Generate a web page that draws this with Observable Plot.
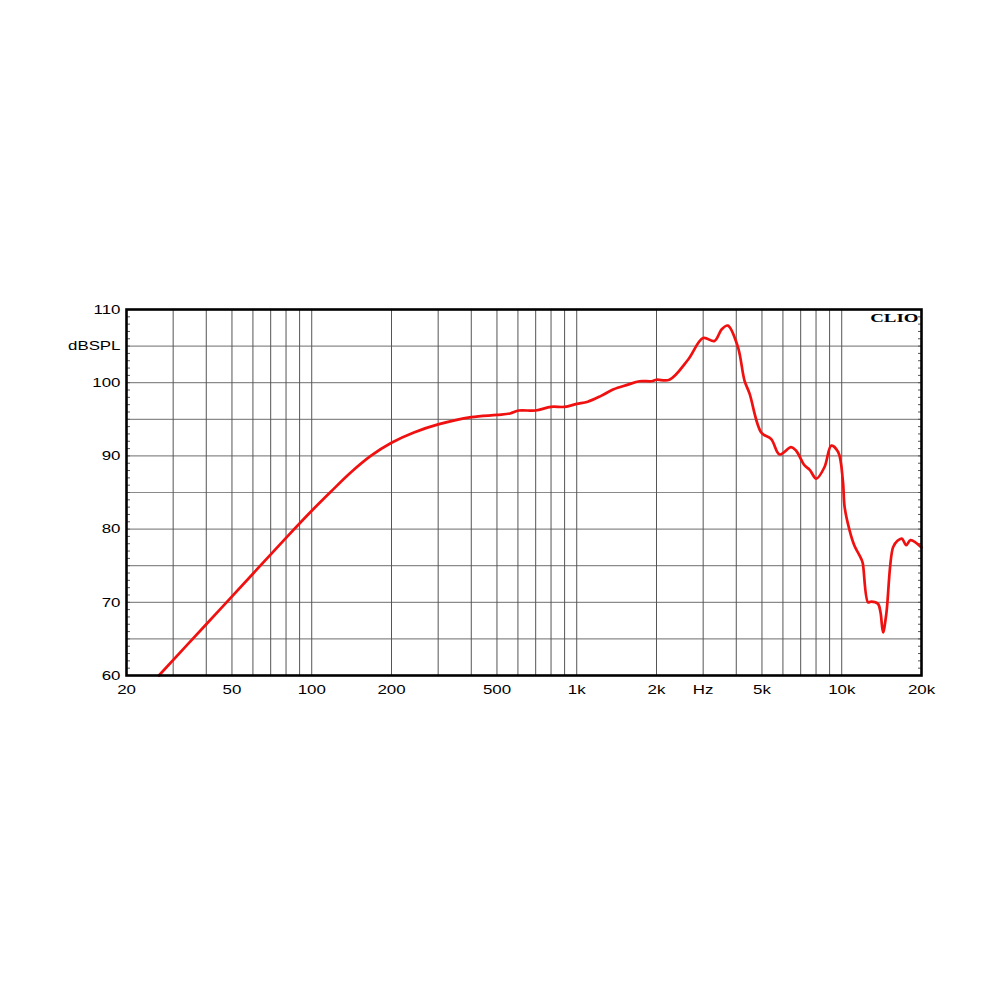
<!DOCTYPE html>
<html>
<head>
<meta charset="utf-8">
<script src="https://cdn.jsdelivr.net/npm/d3@7"></script>
<script src="https://cdn.jsdelivr.net/npm/@observablehq/plot@0.6"></script>
<style>
  html, body { margin: 0; padding: 0; background: #fff; }
  #chart { width: 1000px; height: 1000px; }
</style>
</head>
<body>
<div id="chart"></div>
<script>
// Frequency response (Hz) and level (dB SPL)
const freq = [26.5, 40, 60, 80, 100, 118, 140, 167, 200, 243, 300, 400, 500, 560, 605, 700, 800, 900,
  1000, 1100, 1235, 1377, 1550, 1727, 1917, 2000, 2238, 2625, 3000, 3310, 3525, 3718, 4056, 4296, 4490, 4969,
  5420, 5825, 6443, 6730, 7244, 7573, 8018, 8617, 9132, 9700, 10100, 10256, 10712, 11150, 11858, 12010, 12572,
  12920, 13700, 14010, 14320, 14730, 15616, 16230, 16860, 17520, 18190, 20000];
const spl = [60, 67.0, 73.9, 78.8, 82.5, 85.1, 87.7, 90.0, 91.8, 93.2, 94.3, 95.3, 95.6, 95.8, 96.2, 96.2, 96.7, 96.7,
  97.1, 97.4, 98.2, 99.1, 99.7, 100.2, 100.2, 100.4, 100.4, 103.1, 106.1, 105.7, 107.3, 107.8, 104.9, 100.3, 98.5, 93.2,
  92.3, 90.2, 91.2, 90.7, 88.7, 88.1, 86.9, 88.5, 91.4, 90.5, 86.6, 83.0, 79.8, 77.8, 75.9, 75.3, 70.0,
  70.1, 69.8, 68.6, 65.9, 68.4, 77.5, 78.4, 78.7, 77.8, 78.5, 77.5];

// Axis tick labels
const xTickValues = [20, 50, 100, 200, 500, 1000, 2000, 3000, 5000, 10000, 20000];
const xTickLabels = ["20", "50", "100", "200", "500", "1k", "2k", "Hz", "5k", "10k", "20k"];
const yTickValues = [60, 70, 80, 90, 100, 105, 110];
const yTickLabels = ["60", "70", "80", "90", "100", "dBSPL", "110"];

// Grid lines
const xGrid = [30, 40, 50, 60, 70, 80, 90, 100, 200, 300, 400, 500, 600, 700, 800, 900,
  1000, 2000, 3000, 4000, 5000, 6000, 7000, 8000, 9000, 10000];
const yGrid = [65, 70, 75, 80, 85, 90, 95, 100, 105];
const yMinor = d3.range(61, 110, 1);

const title = "CLIO";

const chart = Plot.plot({
  width: 1000,
  height: 1000,
  marginLeft: 126,
  marginRight: 79,
  marginTop: 309,
  marginBottom: 325,
  style: { fontFamily: "'Liberation Sans', Arial, sans-serif", fontSize: "13.5px", background: "#fff", color: "#000" },
  x: { type: "log", domain: [20, 20000], axis: null },
  y: { domain: [60, 110], axis: null },
  marks: [
    Plot.ruleY(yGrid, { stroke: "#8a8a8a", strokeWidth: 1.2 }),
    Plot.ruleX(xGrid, { stroke: "#555", strokeWidth: 1 }),
    Plot.axisY(yMinor, { anchor: "left", tickSize: 4, insetLeft: 4, fill: "none", stroke: "#555", label: null }),
    Plot.axisY(yMinor, { anchor: "right", tickSize: 4, insetRight: 4, fill: "none", stroke: "#555", label: null }),
    Plot.line(freq, { x: freq, y: spl, stroke: "#f01010", strokeWidth: 2.7, curve: "catmull-rom" }),
    Plot.frame({ stroke: "#000", strokeWidth: 2.6 }),
    Plot.text(yTickValues, { y: d => d, text: yTickLabels, frameAnchor: "left", textAnchor: "end", dx: -6 }),
    Plot.text(xTickValues, { x: d => d, text: xTickLabels, frameAnchor: "bottom", lineAnchor: "top", dy: 9 }),
    Plot.text([title], { frameAnchor: "top-right", dx: -3, dy: 3, textAnchor: "end", lineAnchor: "top",
      fontFamily: "'Liberation Serif', 'Times New Roman', serif", fontWeight: "bold", fontSize: 13.5 })
  ]
});

document.getElementById("chart").appendChild(chart);

// The reference lettering is horizontally widened; stretch each label about its anchor point.
function stretch(el, s) {
  const xa = el.getAttribute("x");
  let pre = "";
  if (xa !== null && !isNaN(+xa)) { pre = `translate(${+xa},0)`; el.removeAttribute("x"); }
  const t = el.getAttribute("transform") || "";
  el.setAttribute("transform", `${t} ${pre} scale(${s},1)`);
}
d3.select(chart).selectAll("text").each(function() {
  stretch(this, this.textContent === title ? 1.4 : 1.25);
});
</script>
</body>
</html>
